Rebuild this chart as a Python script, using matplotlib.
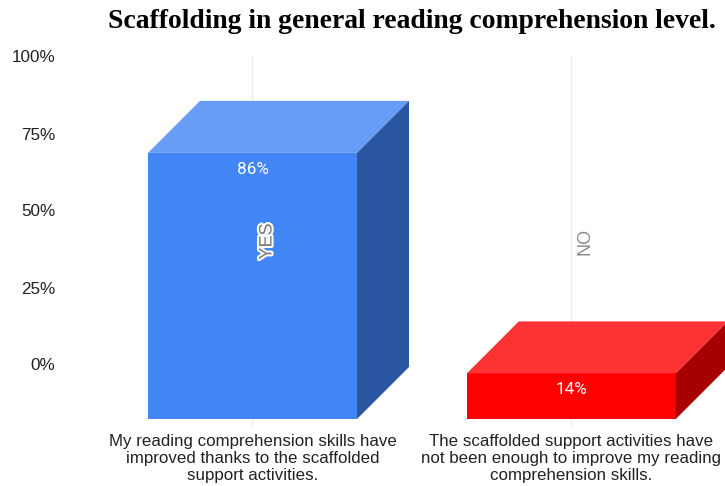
import matplotlib
matplotlib.use("Agg")
import matplotlib.pyplot as plt
import matplotlib.patheffects as pe
from matplotlib.patches import Polygon

title = "Scaffolding in general reading comprehension level."
categories = [
    "My reading comprehension skills have\nimproved thanks to the scaffolded\nsupport activities.",
    "The scaffolded support activities have\nnot been enough to improve my reading\ncomprehension skills.",
]
series_names = ["YES", "NO"]
values = [86.4, 14.8]
value_labels = ["86%", "14%"]
y_ticks = [0, 25, 50, 75, 100]
y_tick_labels = ["0%", "25%", "50%", "75%", "100%"]

W, H = 725, 486
PX_PER_UNIT = 3.08
Y0_PX = 364          # pixel row of the 0% tick (back wall)
X0_PX, STEP_PX = 252.5, 318.8
DEPTH_X, DEPTH_Y = 52 / STEP_PX, 52 / PX_PER_UNIT
BASE = -(419 - Y0_PX) / PX_PER_UNIT
BAR_W = 209 / STEP_PX

fig = plt.figure(figsize=(W / 100, H / 100), dpi=100, facecolor="white")
ax = fig.add_axes([0, 0, 1, 1])
ax.set_xlim(-X0_PX / STEP_PX, (W - X0_PX) / STEP_PX)
ax.set_ylim(-(H - Y0_PX) / PX_PER_UNIT, Y0_PX / PX_PER_UNIT)
ax.axis("off")

SANS = ["Liberation Sans"]
for t, l in zip(y_ticks, y_tick_labels):
    ax.text(ax.get_xlim()[0] + 55.5 / STEP_PX, t - 2 / PX_PER_UNIT, l, ha="right", va="center",
            fontsize=12.3, color="#222222", family=SANS)

grid_bottom = -(425 - Y0_PX) / PX_PER_UNIT
for i in range(len(categories)):
    ax.plot([i, i], [grid_bottom, 100], color="#ebebeb", lw=1.0, zorder=1)

front = ["#4285f4", "#ff0000"]
top = ["#689df6", "#ff3333"]
side = ["#2b57a2", "#a80000"]
for i, v in enumerate(values):
    l, r = i - BAR_W / 2, i + BAR_W / 2
    t = BASE + v
    ax.add_patch(Polygon([(l, BASE), (r, BASE), (r, t), (l, t)], fc=front[i], ec="none", zorder=3))
    ax.add_patch(Polygon([(l, t), (r, t), (r + DEPTH_X, t + DEPTH_Y), (l + DEPTH_X, t + DEPTH_Y)],
                         fc=top[i], ec="none", zorder=3))
    ax.add_patch(Polygon([(r, BASE), (r, t), (r + DEPTH_X, t + DEPTH_Y), (r + DEPTH_X, BASE + DEPTH_Y)],
                         fc=side[i], ec="none", zorder=3))

# value labels inside the front face
ax.text(0, -(169 - Y0_PX) / PX_PER_UNIT, value_labels[0], color="white", ha="center", va="center",
        fontsize=12.3, family="Roboto", zorder=5)
ax.text(1, -(390 - Y0_PX) / PX_PER_UNIT, value_labels[1], color="white", ha="center", va="center",
        fontsize=12.3, family="Roboto", zorder=5)

# series names, rotated
ax.text(0 + 14.5 / STEP_PX, -(241.5 - Y0_PX) / PX_PER_UNIT, series_names[0], rotation=90, color="#777777",
        ha="center", va="center", fontsize=13, family=SANS, zorder=6,
        path_effects=[pe.withStroke(linewidth=3, foreground="white")])
ax.text(1 + 14 / STEP_PX, -(241 - Y0_PX) / PX_PER_UNIT, series_names[1], rotation=90, color="#8a8a8a",
        ha="center", va="center", fontsize=13, family=SANS, zorder=6)

for i, c in enumerate(categories):
    ax.text(i, -(434 - Y0_PX) / PX_PER_UNIT, c, ha="center", va="top", fontsize=12.2,
            linespacing=1.18, color="#222222", family=SANS, zorder=4)

fig.text(412 / W, 1 - 21 / H, title, ha="center", va="center", fontsize=19.9, fontweight="bold",
         family="Liberation Serif", color="#000000")

fig.savefig("out.png", dpi=100)
